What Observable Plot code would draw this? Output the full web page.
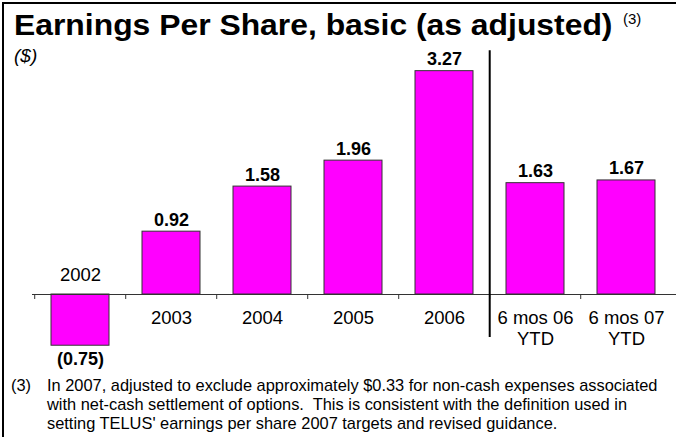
<!DOCTYPE html>
<html><head><meta charset="utf-8">
<script src="https://cdn.jsdelivr.net/npm/d3@7"></script>
<script src="https://cdn.jsdelivr.net/npm/@observablehq/plot@0.6"></script>
<style>
html,body{margin:0;padding:0;background:#fff;}
body{width:676px;height:437px;position:relative;overflow:hidden;font-family:"Liberation Sans",Arial,sans-serif;color:#000;}
#frame{position:absolute;left:2px;top:2px;width:700px;height:460px;border-left:2px solid #000;border-top:2px solid #000;}
#title{position:absolute;left:14px;top:10px;font-size:29.5px;font-weight:bold;line-height:30px;white-space:nowrap;transform:scaleX(1.08);transform-origin:0 0;}
#sup{position:absolute;left:623px;top:11px;font-size:15px;line-height:16px;}
#unit{position:absolute;left:14px;top:46px;font-size:19px;font-style:italic;line-height:20px;}
#chart{position:absolute;left:0;top:40px;}
#note{position:absolute;left:0;top:376px;font-size:16.4px;line-height:19px;}
#note .n{position:absolute;left:11px;top:0;}
#note .t{position:absolute;left:47px;top:0;white-space:nowrap;}
</style>
</head><body>
<div id="frame"></div>
<div id="title">Earnings Per Share, basic (as adjusted)</div>
<div id="sup">(3)</div>
<div id="unit">($)</div>
<div id="chart"></div>
<div id="note"><span class="n">(3)</span><span class="t">In 2007, adjusted to exclude approximately $0.33 for non-cash expenses associated<br>with net-cash settlement of options.&nbsp; This is consistent with the definition used in<br>setting TELUS' earnings per share 2007 targets and revised guidance.</span></div>
<script>
const categories = ["2002", "2003", "2004", "2005", "2006", "6 mos 06\nYTD", "6 mos 07\nYTD"];
const values = [-0.75, 0.92, 1.58, 1.96, 3.27, 1.63, 1.67];
const valueLabels = ["(0.75)", "0.92", "1.58", "1.96", "3.27", "1.63", "1.67"];
const dividerBefore = "6 mos 06\nYTD";
const dividerSpan = [-0.63, 3.57];

const data = categories.map((c, i) => ({cat: c, value: values[i], label: valueLabels[i]}));
const pos = data.filter(d => d.value >= 0);
const neg = data.filter(d => d.value < 0);

const xRange = [32, 673];
const step = (xRange[1] - xRange[0]) / categories.length;
const pxPerUnit = 68.3;
const base = 254;
const yDomain = [-1, 3.5];
const yRange = [base - yDomain[0] * pxPerUnit, base - yDomain[1] * pxPerUnit];
const tickLen = -5 / pxPerUnit;
const font = "Liberation Sans, Arial, sans-serif";

const chart = Plot.plot({
  width: 676,
  height: 330,
  marginLeft: 32,
  marginRight: 0,
  marginTop: 0,
  marginBottom: 0,
  style: {fontFamily: font, background: "transparent", overflow: "visible"},
  x: {domain: categories, range: xRange, paddingInner: 0.367, paddingOuter: 0.1835, axis: null},
  y: {domain: yDomain, range: yRange, axis: null},
  marks: [
    Plot.barY(data, {x: "cat", y: "value", fill: "#FF00FF", stroke: "#333", strokeWidth: 1}),
    Plot.ruleY([0], {stroke: "#333", strokeWidth: 1}),
    Plot.ruleX(categories, {x: d => d, y1: 0, y2: tickLen, dx: -step / 2, stroke: "#333", strokeWidth: 1}),
    Plot.ruleX([dividerBefore], {x: d => d, y1: dividerSpan[0], y2: dividerSpan[1], dx: -step / 2, stroke: "#000", strokeWidth: 2}),
    Plot.text(pos, {x: "cat", y: 0, text: "cat", dy: 14, lineAnchor: "top", lineHeight: 1.15, fontSize: 18.5, fill: "#000"}),
    Plot.text(neg, {x: "cat", y: 0, text: "cat", dy: -14, lineAnchor: "bottom", fontSize: 18.5, fill: "#000"}),
    Plot.text(pos, {x: "cat", y: "value", text: "label", dy: -6, lineAnchor: "bottom", fontSize: 18, fontWeight: "bold", fill: "#000"}),
    Plot.text(neg, {x: "cat", y: "value", text: "label", dy: 6, lineAnchor: "top", fontSize: 18, fontWeight: "bold", fill: "#000"})
  ]
});
document.getElementById("chart").appendChild(chart);
</script>
</body></html>
